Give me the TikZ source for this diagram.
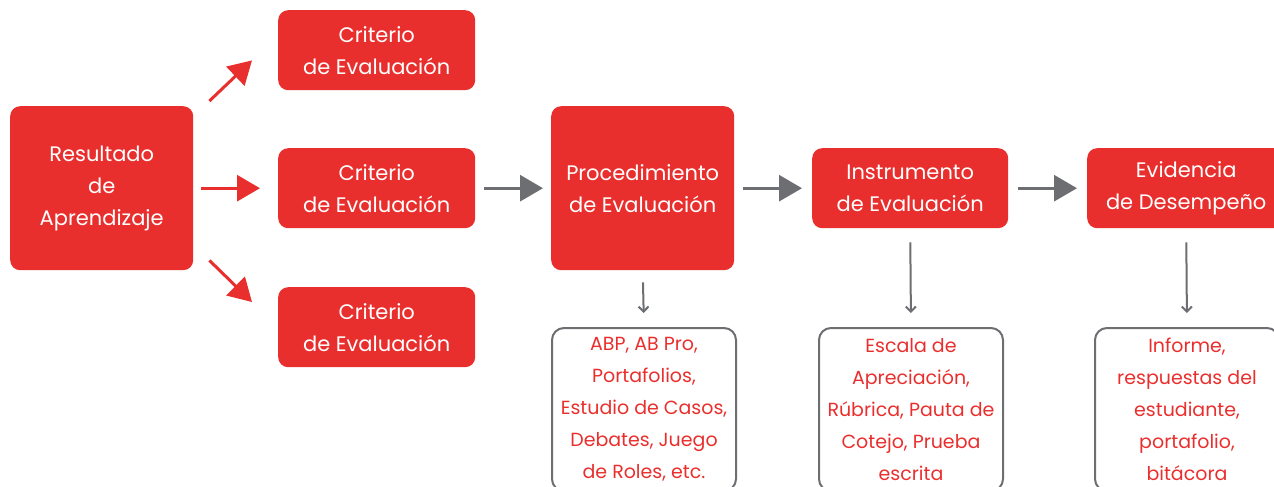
\documentclass[tikz,border=0pt]{standalone}
\usepackage{fontspec}
\setmainfont{Poppins}
\usetikzlibrary{arrows.meta}
\definecolor{rd}{RGB}{233,47,45}
\definecolor{gr}{RGB}{109,110,113}
\begin{document}
\begin{tikzpicture}[x=1pt,y=-1pt,
  redbox/.style={fill=rd, rounded corners=10pt, text=white, align=center, inner sep=0pt,
    font=\fontsize{21}{32}\selectfont, anchor=north west},
  graybox/.style={draw=gr, line width=2pt, rounded corners=12pt, text=rd, align=center, inner sep=0pt,
    font=\fontsize{19}{32}\selectfont, anchor=north west, minimum width=184pt, minimum height=163pt},
  redarr/.style={draw=rd, line width=3pt, -{Triangle[length=23pt,width=26pt]}},
  grayarr/.style={draw=gr, line width=3pt, -{Triangle[length=23pt,width=26pt]}},
  thinarr/.style={draw=gr, line width=2pt, -{Straight Barb[length=5pt,width=10pt]}}]
\path[use as bounding box, clip] (0,0) rectangle (1274,487);
\node[redbox, minimum width=183pt, minimum height=164pt] (res) at (10,106) {Resultado\\de\\Aprendizaje};
\node[redbox, minimum width=197pt, minimum height=80pt] (c1) at (278,10) {Criterio\\de Evaluación};
\node[redbox, minimum width=197pt, minimum height=80pt] (c2) at (278,148) {Criterio\\de Evaluación};
\node[redbox, minimum width=197pt, minimum height=80pt] (c3) at (278,287) {Criterio\\de Evaluación};
\node[redbox, minimum width=183pt, minimum height=164pt] (proc) at (551,106) {Procedimiento\\de Evaluación};
\node[redbox, minimum width=196pt, minimum height=80pt] (inst) at (812,148) {Instrumento\\de Evaluación};
\node[redbox, minimum width=198pt, minimum height=80pt] (evid) at (1087,148) {Evidencia\\de Desempeño};
\node[graybox] (b1) at (551,327) {ABP, AB Pro,\\Portafolios,\\Estudio de Casos,\\Debates, Juego\\de Roles, etc.};
\node[graybox] (b2) at (818,327) {Escala de\\Apreciación,\\Rúbrica, Pauta de\\Cotejo, Prueba\\escrita};
\node[graybox] (b3) at (1094,327) {Informe,\\respuestas del\\estudiante,\\portafolio,\\bitácora};
\draw[redarr] ([shift={(16,-5)}]res.north east) -- ([shift={(-26,-30)}]c1.south west);
\draw[redarr, shorten <=8pt, shorten >=18pt] (res.east) -- (c2.west);
\draw[redarr] ([shift={(16,-10)}]res.south east) -- ([shift={(-26,15)}]c3.north west);
\draw[grayarr, shorten <=9pt, shorten >=8pt] (c2.east) -- (proc.west);
\draw[grayarr, shorten <=9pt, shorten >=10pt] (proc.east) -- (inst.west);
\draw[grayarr, shorten <=10pt, shorten >=10pt] (inst.east) -- (evid.west);
\draw[thinarr, shorten <=12pt, shorten >=14pt] (proc.south) -- (b1.north);
\draw[thinarr, shorten <=14pt, shorten >=14pt] (inst.south) -- (b2.north);
\draw[thinarr, shorten <=14pt, shorten >=14pt] (evid.south) -- (b3.north);
\end{tikzpicture}
\end{document}
